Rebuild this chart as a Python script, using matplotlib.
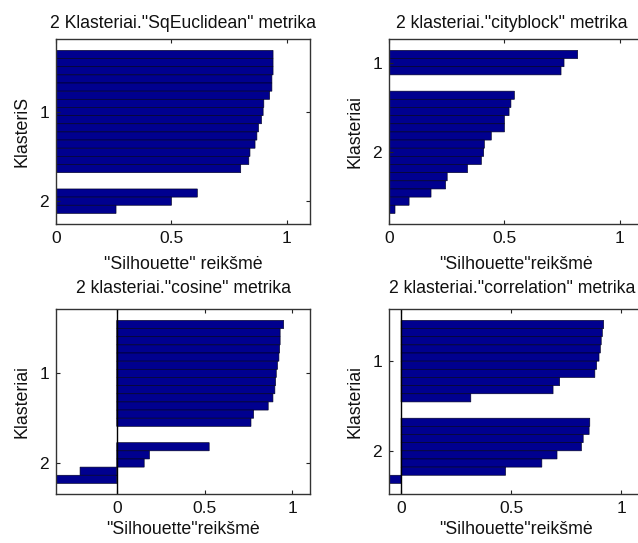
import numpy as np
import matplotlib
matplotlib.use("Agg")
import matplotlib.pyplot as plt

plt.rcParams['font.family'] = ['Liberation Sans', 'DejaVu Sans']

# silhouette values per cluster, sorted descending (top to bottom)
sqeuc_c1 = [0.94, 0.94, 0.94, 0.935, 0.935, 0.925, 0.90, 0.897, 0.89, 0.877,
            0.87, 0.862, 0.84, 0.835, 0.80]
sqeuc_c2 = [0.612, 0.50, 0.26]

city_c1 = [0.817, 0.758, 0.745]
city_c2 = [0.543, 0.528, 0.52, 0.50, 0.50, 0.443, 0.413, 0.41, 0.40, 0.34,
           0.252, 0.245, 0.182, 0.087, 0.026]

cos_c1 = [0.95, 0.93, 0.93, 0.927, 0.923, 0.915, 0.908, 0.904, 0.90, 0.889,
          0.862, 0.779, 0.764]
cos_c2 = [0.526, 0.186, 0.156, -0.209, -0.346]

corr_c1 = [0.921, 0.915, 0.91, 0.906, 0.90, 0.889, 0.881, 0.721, 0.691, 0.317]
corr_c2 = [0.858, 0.855, 0.828, 0.82, 0.709, 0.64, 0.475, -0.055]

titles = ['2 Klasteriai."SqEuclidean" metrika',
          '2 klasteriai."cityblock" metrika',
          '2 klasteriai."cosine" metrika',
          '2 klasteriai."correlation" metrika']
xlabels = ['"Silhouette" reikšmė', '"Silhouette"reikšmė',
           '"Silhouette"reikšmė', '"Silhouette"reikšmė']
ylabels = ['KlasteriS', 'Klasteriai', 'Klasteriai', 'Klasteriai']
panels = [(sqeuc_c1, sqeuc_c2), (city_c1, city_c2),
          (cos_c1, cos_c2), (corr_c1, corr_c2)]

W, H = 638, 543
fig = plt.figure(figsize=(W / 100, H / 100), dpi=100)

# axes boxes in pixels: left, top, right, bottom
boxes = [(56, 39, 310, 224), (389, 39, 643, 224),
         (56, 309, 310, 494), (389, 309, 643, 494)]
title_pads = [8, 8, 11.5, 11.5]
xlabel_pads = [7.5, 7.5, 3.5, 3.5]

bar_color = (0, 0, 0.5625)
gap = 2

for i, (box, (c1, c2)) in enumerate(zip(boxes, panels)):
    l, t, r, b = box
    ax = fig.add_axes([l / W, (H - b) / H, (r - l) / W, (b - t) / H])

    vals = []
    pos = []
    ticks = []
    y = 1
    for cl in (c1, c2):
        p = np.arange(y, y + len(cl))
        vals.extend(cl)
        pos.extend(p)
        ticks.append(p.mean())
        y += len(cl) + gap

    ax.barh(pos, vals, height=1.0, color=bar_color, edgecolor='#000022',
            linewidth=0.45, snap=False)
    xmin = min(0, min(vals))
    if xmin < 0:
        ax.axvline(0, color='black', linewidth=1.0)
    ax.set_xlim(xmin, 1.1)
    ax.set_ylim(pos[-1] + 1.8, -0.9)

    ax.set_yticks(ticks)
    ax.set_yticklabels(['1', '2'])
    ax.set_xticks([0, 0.5, 1])
    ax.set_xticklabels(['0', '0.5', '1'])
    ax.tick_params(direction='in', length=3, width=0.8, top=True, right=True,
                   labelsize=12.5, pad=5, colors='#222222', labelcolor='#111111')
    for s in ax.spines.values():
        s.set_linewidth(1.0)
        s.set_color('#333333')

    # right-hand titles sit a little left of the axes centre
    tx = 0.5 if l < 300 else 0.485
    ax.set_title(titles[i], fontsize=12.7, pad=title_pads[i], color='#111111',
                 x=tx)
    ax.set_xlabel(xlabels[i], fontsize=12.8, labelpad=xlabel_pads[i],
                  color='#111111')
    ax.set_ylabel(ylabels[i], fontsize=12.8, labelpad=6, color='#111111')

fig.savefig('out.png', dpi=100)
